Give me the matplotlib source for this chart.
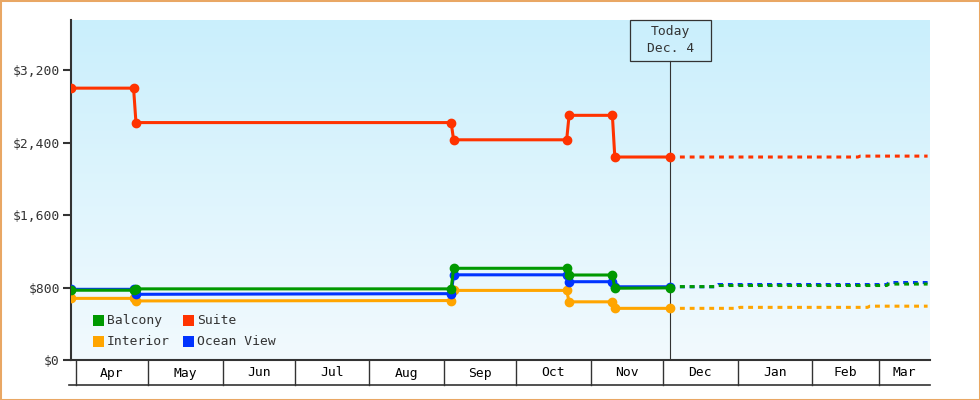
import datetime as dt
import numpy as np
import matplotlib
matplotlib.use("Agg")
import matplotlib.pyplot as plt
import matplotlib.dates as mdates
from matplotlib.patches import Rectangle
from matplotlib.colors import LinearSegmentedColormap

plt.rcParams['font.family'] = ['DejaVu Sans Mono', 'DejaVu Sans']

# price history (step changes, one day apart)
hist_dates = ['2024-03-30', '2024-04-25', '2024-04-26', '2024-09-04', '2024-09-05',
              '2024-10-22', '2024-10-23', '2024-11-10', '2024-11-11', '2024-12-04']
suite      = [3000, 3000, 2620, 2620, 2430, 2430, 2700, 2700, 2240, 2240]
balcony    = [770, 770, 785, 785, 1012, 1012, 938, 938, 792, 796]
ocean_view = [780, 780, 725, 732, 940, 940, 864, 864, 808, 808]
interior   = [680, 680, 652, 656, 768, 768, 642, 642, 570, 570]

# forecast after today
suite_fc_dates = ['2024-12-04', '2025-02-20', '2025-02-21', '2025-03-21']
suite_fc       = [2240, 2240, 2250, 2250]
bo_fc_dates    = ['2024-12-04', '2024-12-23', '2024-12-24', '2025-03-04', '2025-03-05', '2025-03-21']
balcony_fc     = [810, 810, 822, 822, 838, 838]
ocean_view_fc  = [808, 808, 833, 833, 855, 855]
int_fc_dates   = ['2024-12-04', '2025-01-01', '2025-01-02', '2025-02-24', '2025-02-25', '2025-03-21']
interior_fc    = [570, 570, 581, 581, 594, 594]

yticks  = [0, 800, 1600, 2400, 3200]
ylabels = ['$0', '$800', '$1,600', '$2,400', '$3,200']
months  = ['Apr', 'May', 'Jun', 'Jul', 'Aug', 'Sep', 'Oct', 'Nov', 'Dec', 'Jan', 'Feb', 'Mar']
month_starts = ['2024-04-01', '2024-05-01', '2024-06-01', '2024-07-01', '2024-08-01', '2024-09-01',
                '2024-10-01', '2024-11-01', '2024-12-01', '2025-01-01', '2025-02-01', '2025-03-01']
today = '2024-12-04'
x_start, x_end = '2024-03-30', '2025-03-22'

RED, GREEN, ORANGE, BLUE = '#ff3300', '#009900', '#ffa500', '#0033ff'
DARK = '#333333'


def num(dates):
    return mdates.date2num([dt.date.fromisoformat(s) for s in dates])


fig = plt.figure(figsize=(9.8, 4.0), dpi=100)
ax = fig.add_axes([71/980, 40/400, 859/980, 340/400])

# background gradient
cmap = LinearSegmentedColormap.from_list('bg', ['#f2fafe', '#caeffc'])
ax.imshow(np.linspace(0, 1, 256).reshape(-1, 1)[::-1], extent=[0, 1, 0, 1],
          transform=ax.transAxes, aspect='auto', cmap=cmap, zorder=0)

xmin, xmax = num([x_start, x_end])
t = num([today])[0]
trans = ax.get_xaxis_transform()
box_h = 41/340

# today marker line
ax.plot([t, t], [0, 1 - box_h], transform=trans, color=DARK, lw=0.8, zorder=2)

hx = num(hist_dates)
series = [(interior, interior_fc, int_fc_dates, ORANGE),
          (ocean_view, ocean_view_fc, bo_fc_dates, BLUE),
          (balcony, balcony_fc, bo_fc_dates, GREEN),
          (suite, suite_fc, suite_fc_dates, RED)]
for vals, fc, fc_d, col in series:
    ax.plot(num(fc_d), fc, color=col, lw=2.2, linestyle=(0, (1.6, 1.6)), zorder=3)
    ax.plot(hx, vals, color=col, lw=2.2, marker='o', ms=6, zorder=4)

ax.set_xlim(xmin, xmax)
ax.set_ylim(0, 3752)

for s in ['top', 'right']:
    ax.spines[s].set_visible(False)
for s in ['left', 'bottom']:
    ax.spines[s].set_linewidth(1.5)
    ax.spines[s].set_color(DARK)
ax.set_xticks([])
ax.set_yticks(yticks)
ax.set_yticklabels(ylabels)
ax.tick_params(axis='y', length=6, width=1.5, color=DARK, pad=2, labelsize=9.4, labelcolor=DARK)

# month table under the axis
row_h = 25/340
ms = num(month_starts)
for i, lab in enumerate(months):
    a = ms[i]
    b = ms[i + 1] if i + 1 < len(ms) else xmax
    ax.plot([a, a], [0, -row_h], transform=trans, color=DARK, lw=1, clip_on=False)
    ax.text((a + b) / 2, -13/340, lab, transform=trans, ha='center', va='center',
            fontsize=9.4, color='black')
ax.plot([xmin - 1, xmax], [-row_h, -row_h], transform=trans, color=DARK, lw=1.2, clip_on=False)

# today box
half_w = 40.5 / 859 * (xmax - xmin)
ax.add_patch(Rectangle((t - half_w, 1 - box_h), 2 * half_w, box_h, transform=trans,
                       facecolor='none', edgecolor=DARK, lw=0.9, zorder=5, clip_on=False))
ax.text(t, 1 - 12/340, 'Today', transform=trans, ha='center', va='center', fontsize=9.4, color=DARK)
ax.text(t, 1 - 28/340, 'Dec. 4', transform=trans, ha='center', va='center', fontsize=9.4, color=DARK)

# legend
legend_items = [('Balcony', GREEN), ('Suite', RED), ('Interior', ORANGE), ('Ocean View', BLUE)]
for i, (lab, col) in enumerate(legend_items):
    px = [93, 183][i % 2]
    py = [320.5, 341.5][i // 2]
    x0 = (px - 71) / 859
    y0 = (360 - py) / 340
    ax.add_patch(Rectangle((x0, y0 - 5.5/340), 11/859, 11/340, transform=ax.transAxes,
                           facecolor=col, edgecolor='none', zorder=6))
    ax.text(x0 + 14/859, y0, lab, transform=ax.transAxes, ha='left', va='center',
            fontsize=9.4, color=DARK, zorder=6)

# outer border
fig.patches.append(Rectangle((0, 0), 1, 1, transform=fig.transFigure, fill=False,
                             edgecolor='#e9a764', lw=2.2))

fig.savefig('out.png', dpi=100)
